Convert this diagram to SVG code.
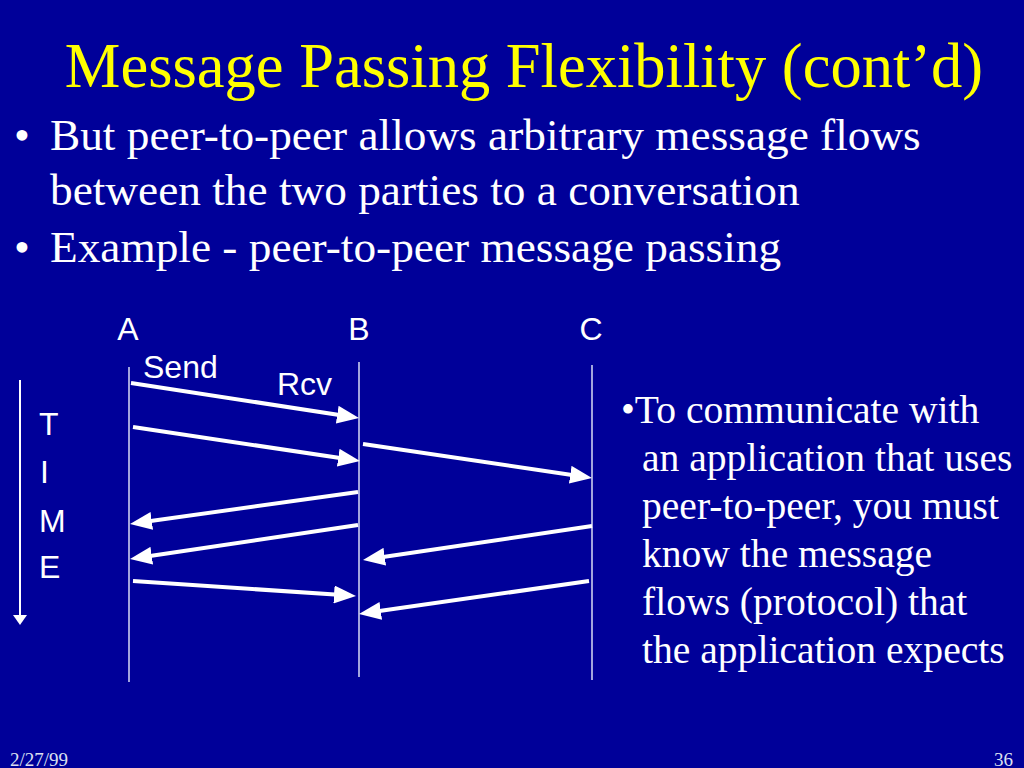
<svg xmlns="http://www.w3.org/2000/svg" width="1024" height="768" viewBox="0 0 1024 768">
<style>
.title{font-family:"Liberation Serif","Times New Roman",serif;font-size:62.5px;fill:#ffff00}
.body{font-family:"Liberation Serif","Times New Roman",serif;font-size:45.3px;fill:#ffffff}
.note{font-family:"Liberation Serif","Times New Roman",serif;font-size:39.6px;fill:#ffffff}
.lbl{font-family:"Liberation Sans",Arial,sans-serif;font-size:32px;fill:#ffffff}
.foot{font-family:"Liberation Serif","Times New Roman",serif;font-size:19px;fill:#dde0f0}
.life{stroke:#d8dcf4;stroke-width:1.5;fill:none}
.msg{stroke:#ffffff;stroke-width:4;fill:none;marker-end:url(#ah)}
</style>
<defs>
<marker id="ah" viewBox="0 0 22 18" markerWidth="22" markerHeight="18" markerUnits="userSpaceOnUse" refX="12" refY="9" orient="auto">
<path d="M0,0 L22,9 L0,18 z" fill="#ffffff"/>
</marker>
<marker id="ahs" viewBox="0 0 10 14" markerWidth="10" markerHeight="14" markerUnits="userSpaceOnUse" refX="2" refY="7" orient="auto">
<path d="M0,0 L10,7 L0,14 z" fill="#ffffff"/>
</marker>
</defs>
<rect width="1024" height="768" fill="#000099"/>
<text class="title" x="524" y="87" text-anchor="middle">Message Passing Flexibility (cont’d)</text>
<g id="bullets">
<text class="body" x="14" y="150">•</text>
<text class="body" x="50" y="150">But peer-to-peer allows arbitrary message flows</text>
<text class="body" x="50" y="205">between the two parties to a conversation</text>
<text class="body" x="14" y="262">•</text>
<text class="body" x="50" y="262">Example - peer-to-peer message passing</text>
</g>
<g id="node-A">
<text class="lbl" x="128" y="340" text-anchor="middle">A</text>
<line class="life" x1="129" y1="367" x2="129" y2="682"/>
</g>
<g id="node-B">
<text class="lbl" x="359" y="340" text-anchor="middle">B</text>
<line class="life" x1="359" y1="362" x2="359" y2="677"/>
</g>
<g id="node-C">
<text class="lbl" x="591" y="340" text-anchor="middle">C</text>
<line class="life" x1="592" y1="365" x2="592" y2="680"/>
</g>
<g id="labels">
<text class="lbl" x="143" y="378">Send</text>
<text class="lbl" x="277" y="395">Rcv</text>
</g>
<g id="time">
<line x1="20" y1="380" x2="20" y2="617" stroke="#ffffff" stroke-width="2" marker-end="url(#ahs)"/>
<text class="lbl" x="39" y="435">T</text>
<text class="lbl" x="40" y="483">I</text>
<text class="lbl" x="39" y="532">M</text>
<text class="lbl" x="39" y="578">E</text>
</g>
<g id="connectors">
<line class="msg" x1="131" y1="383" x2="349.1" y2="416.5"/>
<line class="msg" x1="133" y1="427" x2="350.1" y2="459.5"/>
<line class="msg" x1="363" y1="444" x2="582.1" y2="476.5"/>
<line class="msg" x1="358" y1="492" x2="139.9" y2="522.6"/>
<line class="msg" x1="358" y1="525" x2="139.9" y2="557.5"/>
<line class="msg" x1="592" y1="526" x2="372.9" y2="558.5"/>
<line class="msg" x1="133" y1="581" x2="346" y2="595.3"/>
<line class="msg" x1="589" y1="581" x2="368.9" y2="612.6"/>
</g>
<g id="note">
<text class="note" x="621" y="423">•To communicate with</text>
<text class="note" x="642" y="471">an application that uses</text>
<text class="note" x="642" y="519">peer-to-peer, you must</text>
<text class="note" x="642" y="567">know the message</text>
<text class="note" x="642" y="615">flows (protocol) that</text>
<text class="note" x="642" y="663">the application expects</text>
</g>
<g id="footer">
<text class="foot" x="10" y="766">2/27/99</text>
<text class="foot" x="1013" y="766" text-anchor="end">36</text>
</g>
</svg>
